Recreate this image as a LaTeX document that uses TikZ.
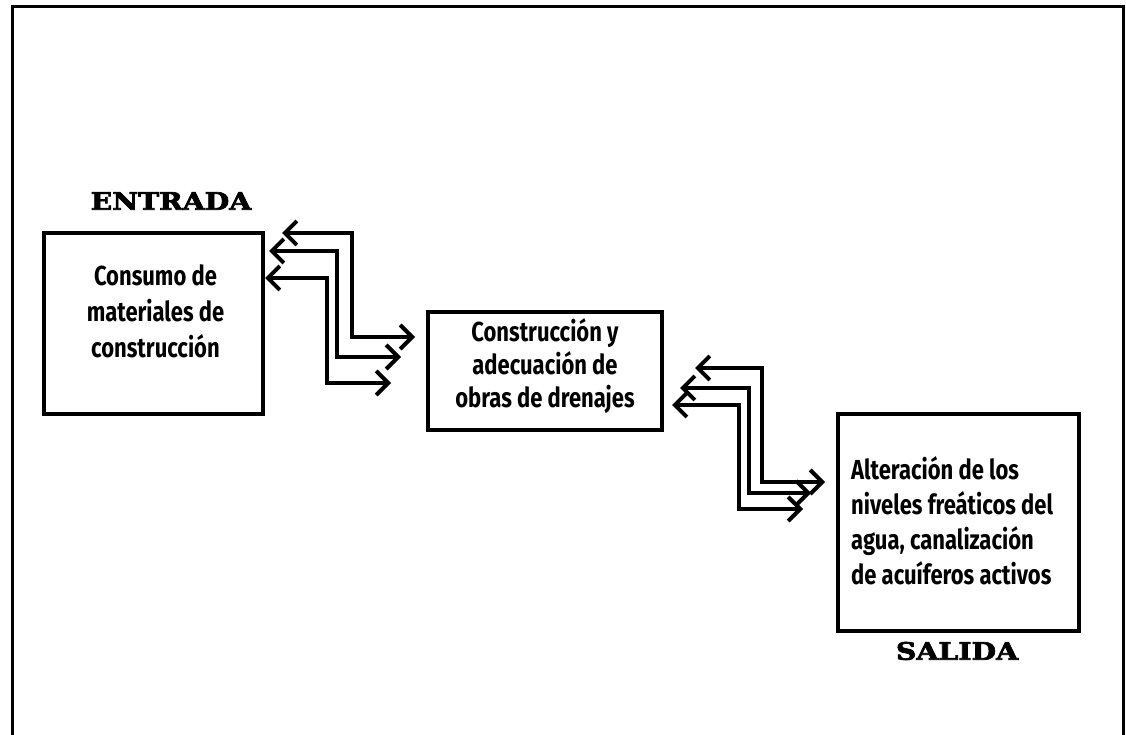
\documentclass[tikz,border=0pt]{standalone}
\usepackage{fontspec}
\usetikzlibrary{arrows.meta,calc}
\newfontfamily\boxfont[FakeStretch=0.8]{Fira Sans}
\newfontfamily\titlefont[FakeStretch=1.18,FakeBold=3]{DejaVu Serif}
\begin{document}
\begin{tikzpicture}[x=1pt,y=-1pt,
  frame/.style={draw=black,line width=3pt},
  procbox/.style={draw=black,line width=4pt,inner sep=0pt,fill=white},
  boxtext/.style={font=\boxfont\bfseries\fontsize{27.5}{36}\selectfont,align=center,inner sep=0pt},
  titletext/.style={font=\titlefont\bfseries\fontsize{24}{26}\selectfont,inner sep=0pt},
  arr/.style={line width=4pt,line join=miter,
    {Straight Barb[length=12pt,width=24pt,line width=4pt]}-{Straight Barb[length=12pt,width=24pt,line width=4pt]}}
]
\useasboundingbox (0,0) rectangle (1126,735);
\fill[white] (0,0) rectangle (1126,735);
\draw[frame] (12,745) -- (12,7) -- (1123,7) -- (1123,745);

\node[procbox,minimum width=219pt,minimum height=181pt] (b1) at (153.5,323.5) {};
\node[procbox,minimum width=234pt,minimum height=118pt] (b2) at (545,371) {};
\node[procbox,minimum width=241pt,minimum height=217pt] (b3) at (958.5,522.5) {};

\node[boxtext] (t1) at ($(b1.center)+(2,-12)$) {Consumo de\\materiales de\\construcción};
\node[boxtext,font=\boxfont\bfseries\fontsize{27.5}{33}\selectfont] (t2) at ($(b2.center)+(0,-5)$) {Construcción y\\adecuación de\\obras de drenajes};
\node[boxtext,align=left,anchor=west,font=\boxfont\bfseries\fontsize{27.5}{35}\selectfont] (t3) at ($(b3.west)+(15,-2)$) {Alteración de los\\niveles freáticos del\\agua, canalización\\de acuíferos activos};

\node[titletext] (entrada) at (171,201) {ENTRADA};
\node[titletext] (salida) at (957,651) {SALIDA};

% arrows between box 1 and box 2
\draw[arr] ($(b1.north east)+(17,2)$) -- ++(70,0) |- ($(b2.west)+(-11,-34)$);
\draw[arr] ($(b1.north east)+(4,20)$) -- ++(68,0) |- ($(b2.west)+(-25,-14)$);
\draw[arr] ($(b1.north east)+(0,47)$) -- ++(62,0) |- ($(b2.west)+(-35,12)$);

% arrows between box 2 and box 3
\draw[arr] ($(b2.north east)+(31,58)$) -- ++(67,0) |- ($(b3.west)+(-11,-40.5)$);
\draw[arr] ($(b2.north east)+(16,78)$) -- ++(69,0) |- ($(b3.west)+(-25,-29.5)$);
\draw[arr] ($(b2.north east)+(8,95)$) -- ++(67,0) |- ($(b3.west)+(-33,-13.5)$);
\end{tikzpicture}
\end{document}
